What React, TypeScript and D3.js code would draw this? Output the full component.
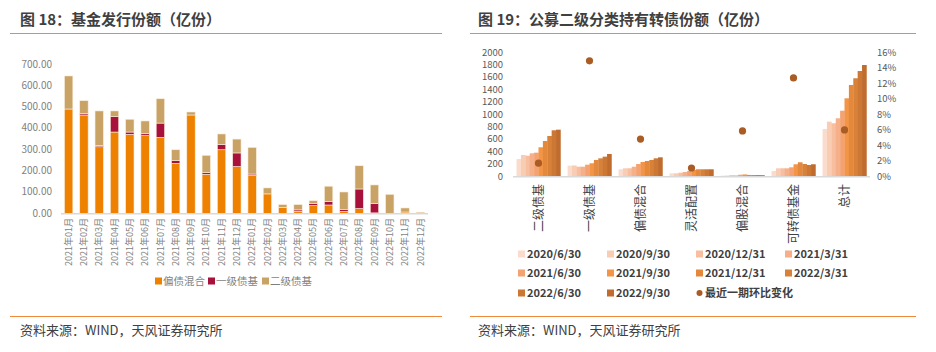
import { useEffect, useRef } from "react";
import * as d3 from "d3";

// ---- left chart: monthly fund issuance (亿份)
const months = [
  "2021年01月", "2021年02月", "2021年03月", "2021年04月", "2021年05月", "2021年06月",
  "2021年07月", "2021年08月", "2021年09月", "2021年10月", "2021年11月", "2021年12月",
  "2022年01月", "2022年02月", "2022年03月", "2022年04月", "2022年05月", "2022年06月",
  "2022年07月", "2022年08月", "2022年09月", "2022年10月", "2022年11月", "2022年12月",
];
const mixedBond = [489, 461, 312, 381, 370, 364, 356, 234, 461, 183, 298, 219, 177, 91, 27, 9, 36, 39, 9, 22, 2, 0, 6, 0];
const primaryBond = [0, 6, 5, 72, 11, 9, 67, 13, 0, 8, 25, 64, 7, 0, 0, 7, 9, 16, 8, 92, 44, 0, 0, 0];
const secondaryBond = [155, 61, 163, 27, 60, 60, 114, 51, 14, 81, 49, 65, 125, 28, 14, 25, 14, 72, 83, 109, 87, 89, 19, 5];
const issueSeries = ["偏债混合", "一级债基", "二级债基"];
const issueColors = ["#ee8200", "#a8113b", "#c9a266"];
const issueTicks = [0, 100, 200, 300, 400, 500, 600, 700];

// ---- right chart: convertible bond holdings by fund type (亿份)
const categories = ["二级债基", "一级债基", "偏债混合", "灵活配置", "偏股混合", "可转债基金", "总计"];
const periods = [
  "2020/6/30", "2020/9/30", "2020/12/31", "2021/3/31", "2021/6/30",
  "2021/9/30", "2021/12/31", "2022/3/31", "2022/6/30", "2022/9/30",
];
const periodColors = [
  "#fbdccc", "#f9cdb3", "#f7bfa0", "#f5b08a", "#f4a271",
  "#f39447", "#e4893c", "#d88139", "#cc7734", "#c06c2e",
];
const secondaryHold = [279, 344, 333, 371, 381, 468, 569, 650, 742, 752];
const primaryHold = [172, 175, 155, 155, 187, 210, 263, 290, 317, 360];
const mixedBondHold = [113, 129, 129, 155, 198, 231, 247, 263, 290, 306];
const flexibleHold = [48, 48, 58, 69, 85, 102, 113, 113, 113, 113];
const mixedEquityHold = [10, 12, 18, 15, 25, 30, 22, 20, 20, 18];
const cbFundHold = [85, 129, 129, 129, 145, 194, 226, 198, 182, 194];
const totalHold = [763, 881, 855, 936, 1058, 1258, 1473, 1581, 1698, 1795];
const qoqChange = [0.017, 0.149, 0.048, 0.0107, 0.0585, 0.127, 0.0598];
const holdTicks = [0, 200, 400, 600, 800, 1000, 1200, 1400, 1600, 1800, 2000];
const pctTicks = [0, 0.02, 0.04, 0.06, 0.08, 0.1, 0.12, 0.14, 0.16];

const FONT = "'Noto Sans CJK SC', 'Noto Sans', sans-serif";

export default function App() {
  const ref = useRef<SVGSVGElement | null>(null);

  useEffect(() => {
    if (!ref.current) return;
    const svg = d3.select(ref.current);
    svg.selectAll("*").remove();
    svg.style("font-family", FONT);

    // frame: titles, orange rules, sources
    const panels = [
      { x0: 10, x1: 442, tx: 20, title: "图 18：基金发行份额（亿份）" },
      { x0: 470, x1: 916, tx: 478, title: "图 19：公募二级分类持有转债份额（亿份）" },
    ];
    panels.forEach((p) => {
      svg.append("text").attr("x", p.tx).attr("y", 25).attr("font-size", 15)
        .attr("font-weight", "bold").attr("fill", "#404040").text(p.title);
      [33.5, 316.5].forEach((yy) =>
        svg.append("line").attr("x1", p.x0).attr("x2", p.x1).attr("y1", yy).attr("y2", yy)
          .attr("stroke", "#ee8a3c").attr("stroke-width", 1.2)
      );
      svg.append("text").attr("x", p.tx).attr("y", 335).attr("font-size", 13)
        .attr("fill", "#404040").text("资料来源：WIND，天风证券研究所");
    });

    // 1) left stacked bars
    const rows = months.map((m, i) => ({
      month: m,
      偏债混合: mixedBond[i],
      一级债基: primaryBond[i],
      二级债基: secondaryBond[i],
    }));
    const x = d3.scaleBand<string>().domain(months).range([61, 428]).paddingInner(0.45).paddingOuter(0.225);
    const y = d3.scaleLinear().domain([0, 700]).range([213.3, 64]);
    const stacked = d3.stack<any>().keys(issueSeries)(rows);
    const left = svg.append("g");
    stacked.forEach((layer, k) => {
      left.append("g").attr("fill", issueColors[k])
        .selectAll("rect").data(layer).join("rect")
        .attr("x", (d) => x(d.data.month)!)
        .attr("width", x.bandwidth())
        .attr("y", (d) => y(d[1]))
        .attr("height", (d) => Math.max(0, y(d[0]) - y(d[1])))
        .attr("stroke", "#fbeede").attr("stroke-width", 0.6);
    });
    left.append("line").attr("x1", 61).attr("x2", 428).attr("y1", y(0) + 0.5).attr("y2", y(0) + 0.5)
      .attr("stroke", "#d9d9d9").attr("stroke-width", 1.5);
    left.selectAll(".ytick").data(issueTicks).join("text")
      .attr("x", 52).attr("y", (d) => y(d)).attr("dy", "0.35em").attr("text-anchor", "end")
      .attr("font-size", 10).attr("fill", "#7f7f7f").text((d) => d3.format(".2f")(d));
    left.selectAll(".xtick").data(months).join("text")
      .attr("transform", (d) => `translate(${x(d)! + x.bandwidth() / 2},218) rotate(-90)`)
      .attr("text-anchor", "end").attr("dy", "0.35em")
      .attr("font-size", 9).attr("fill", "#7f7f7f").text((d) => d);
    const legL = [155, 208, 262];
    issueSeries.forEach((s, k) => {
      left.append("rect").attr("x", legL[k]).attr("y", 277.5).attr("width", 7).attr("height", 7)
        .attr("fill", issueColors[k]);
      left.append("text").attr("x", legL[k] + 8).attr("y", 281).attr("dy", "0.35em")
        .attr("font-size", 10.5).attr("fill", "#7f7f7f").text(s);
    });

    // 2) right grouped bars + dots
    const holdings = [secondaryHold, primaryHold, mixedBondHold, flexibleHold, mixedEquityHold, cbFundHold, totalHold];
    const gx = d3.scaleBand<string>().domain(categories).range([513, 870]).paddingInner(0.14).paddingOuter(0.07);
    const px = d3.scaleBand<string>().domain(periods).range([0, gx.bandwidth()]).padding(0);
    const yL = d3.scaleLinear().domain([0, 2000]).range([176.3, 52.3]);
    const yR = d3.scaleLinear().domain([0, 0.16]).range([176.3, 52.3]);
    const right = svg.append("g");
    categories.forEach((c, ci) => {
      right.append("g").attr("transform", `translate(${gx(c)},0)`)
        .selectAll("rect").data(holdings[ci]).join("rect")
        .attr("x", (_, i) => px(periods[i])!)
        .attr("width", px.bandwidth() + 0.3)
        .attr("y", (d) => yL(d))
        .attr("height", (d) => yL(0) - yL(d))
        .attr("fill", (_, i) => periodColors[i]);
    });
    right.append("line").attr("x1", 513).attr("x2", 870).attr("y1", yL(0) + 0.5).attr("y2", yL(0) + 0.5)
      .attr("stroke", "#d9d9d9").attr("stroke-width", 1.5);
    right.selectAll(".dot").data(qoqChange).join("circle")
      .attr("cx", (_, i) => gx(categories[i])! + gx.bandwidth() / 2)
      .attr("cy", (d) => yR(d)).attr("r", 3.6).attr("fill", "#a95c24");
    right.selectAll(".yl").data(holdTicks).join("text")
      .attr("x", 503).attr("y", (d) => yL(d)).attr("dy", "0.35em").attr("text-anchor", "end")
      .attr("font-size", 9.5).attr("fill", "#595959").text((d) => d);
    right.selectAll(".yr").data(pctTicks).join("text")
      .attr("x", 877).attr("y", (d) => yR(d)).attr("dy", "0.35em").attr("text-anchor", "start")
      .attr("font-size", 9.5).attr("fill", "#595959").text((d) => d3.format(".0%")(d));
    right.selectAll(".cat").data(categories).join("text")
      .attr("transform", (d) => `translate(${gx(d)! + gx.bandwidth() / 2},184) rotate(-90)`)
      .attr("text-anchor", "end").attr("dy", "0.35em")
      .attr("font-size", 12).attr("fill", "#404040").text((d) => d);

    const colX = [518, 607, 696, 785];
    const rowY = [254, 273, 293];
    const legendItems = [...periods.map((p, i) => ({ label: p, color: periodColors[i], dot: false })),
      { label: "最近一期环比变化", color: "#a95c24", dot: true }];
    legendItems.forEach((it, i) => {
      const lx = colX[i % 4];
      const ly = rowY[Math.floor(i / 4)];
      if (it.dot) {
        right.append("circle").attr("cx", lx + 3.5).attr("cy", ly).attr("r", 3).attr("fill", it.color);
      } else {
        right.append("rect").attr("x", lx).attr("y", ly - 3.5).attr("width", 7).attr("height", 7)
          .attr("fill", it.color);
      }
      right.append("text").attr("x", lx + 9).attr("y", ly).attr("dy", "0.35em")
        .attr("font-size", 11).attr("font-weight", "bold").attr("fill", "#404040").text(it.label);
    });
  }, []);

  return (
    <svg
      ref={ref}
      width={936}
      height={352}
      style={{ position: "absolute", left: 0, top: 0, background: "#fff" }}
    />
  );
}
